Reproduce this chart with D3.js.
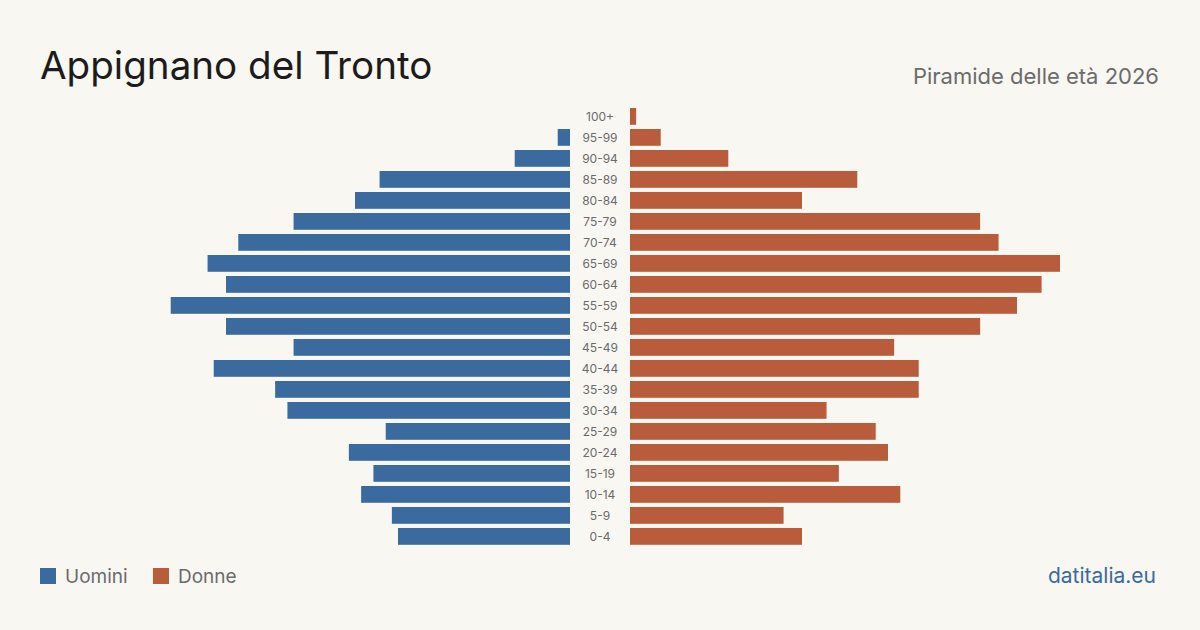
<!DOCTYPE html>
<html>
<head>
<meta charset="utf-8">
<script src="https://cdn.jsdelivr.net/npm/d3@7"></script>
<style>
  body { margin: 0; background: #f9f7f2; }
  svg { display: block; font-family: Inter, "Noto Sans", sans-serif; }
</style>
</head>
<body>
<div id="chart"></div>
<script>
// Age classes, top to bottom
const ageGroups = ['100+', '95-99', '90-94', '85-89', '80-84', '75-79', '70-74', '65-69', '60-64',
    '55-59', '50-54', '45-49', '40-44', '35-39', '30-34', '25-29', '20-24', '15-19', '10-14', '5-9', '0-4'];
// Men (Uomini)
const men = [0, 2, 9, 31, 35, 45, 54, 59, 56, 65, 56, 45, 58, 48, 46, 30, 36, 32, 34, 29, 28];
// Women (Donne)
const women = [1, 5, 16, 37, 28, 57, 60, 70, 67, 63, 57, 43, 47, 47, 32, 40, 42, 34, 44, 25, 28];

const W = 1200, H = 630;
const centerX = 600, gap = 30;
const blue = '#3b6b9e', orange = '#b95c3c';

const svg = d3.select('#chart')
    .append('svg')
    .attr('width', W)
    .attr('height', H);

svg.append('rect').attr('width', W).attr('height', H).attr('fill', '#f9f7f2');

// Title and subtitle
svg.append('text')
    .attr('x', 40).attr('y', 79)
    .attr('font-size', 38.6)
    .attr('fill', '#1c1c1c')
    .text('Appignano del Tronto');

svg.append('text')
    .attr('x', 1159).attr('y', 84)
    .attr('text-anchor', 'end')
    .attr('font-size', 22)
    .attr('fill', '#6b6b6b')
    .text('Piramide delle età 2026');

// Scales
const y = d3.scaleBand()
    .domain(ageGroups)
    .range([105.9, 105.9 + 21 * ageGroups.length])
    .paddingInner(0.2)
    .paddingOuter(0.1);

const x = d3.scaleLinear()
    .domain([0, 70])
    .range([0, 430]);

const rows = ageGroups.map((g, i) => ({ group: g, men: men[i], women: women[i] }));

// Men bars (left)
svg.selectAll('.bar-men')
    .data(rows)
    .enter().append('rect')
    .attr('class', 'bar-men')
    .attr('x', d => centerX - gap - x(d.men))
    .attr('y', d => y(d.group))
    .attr('width', d => x(d.men))
    .attr('height', y.bandwidth())
    .attr('fill', blue);

// Women bars (right)
svg.selectAll('.bar-women')
    .data(rows)
    .enter().append('rect')
    .attr('class', 'bar-women')
    .attr('x', centerX + gap)
    .attr('y', d => y(d.group))
    .attr('width', d => x(d.women))
    .attr('height', y.bandwidth())
    .attr('fill', orange);

// Age labels in the middle
svg.selectAll('.age-label')
    .data(rows)
    .enter().append('text')
    .attr('class', 'age-label')
    .attr('x', centerX)
    .attr('y', d => y(d.group) + y.bandwidth() / 2)
    .attr('dy', '0.35em')
    .attr('text-anchor', 'middle')
    .attr('font-size', 12)
    .attr('fill', '#6b6b6b')
    .text(d => d.group);

// Legend
const legend = [{ label: 'Uomini', color: blue, x: 40 }, { label: 'Donne', color: orange, x: 153 }];
const lg = svg.selectAll('.legend')
    .data(legend)
    .enter().append('g')
    .attr('class', 'legend')
    .attr('transform', d => `translate(${d.x}, 568)`);

lg.append('rect')
    .attr('width', 16).attr('height', 16)
    .attr('fill', d => d.color);

lg.append('text')
    .attr('x', 25).attr('y', 8)
    .attr('dy', '0.35em')
    .attr('font-size', 19)
    .attr('fill', '#6b6b6b')
    .text(d => d.label);

// Source
svg.append('text')
    .attr('x', 1156).attr('y', 583)
    .attr('text-anchor', 'end')
    .attr('font-size', 21)
    .attr('fill', '#3b6b9e')
    .text('datitalia.eu');
</script>
</body>
</html>
